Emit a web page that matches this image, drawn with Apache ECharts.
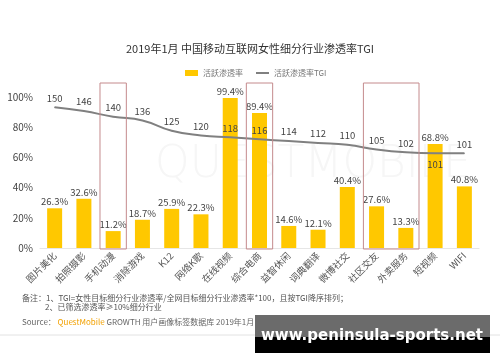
<!DOCTYPE html>
<html><head><meta charset="utf-8">
<script src="https://cdn.jsdelivr.net/npm/echarts@6/dist/echarts.min.js"></script>
<style>html,body{margin:0;padding:0;background:#fff}#c{width:500px;height:362px}</style>
</head><body><div id="c"></div>
<script>
const categories = ['图片美化','拍照摄影','手机动漫','消除游戏','K12','网络K歌','在线视频','综合电商','益智休闲','词典翻译','微博社交','社区交友','外卖服务','短视频','WIFI'];
const penetration = [26.3,32.6,11.2,18.7,25.9,22.3,99.4,89.4,14.6,12.1,40.4,27.6,13.3,68.8,40.8];
const tgi = [150,146,140,136,125,120,118,116,114,112,110,105,102,101,101];
const yTicks = [0,20,40,60,80,100];
const highlightGroups = [['手机动漫'],['综合电商'],['社区交友','外卖服务']];
const titleText = '2019年1月 中国移动互联网女性细分行业渗透率TGI';
const noteLines = ['备注：1、TGI=女性目标细分行业渗透率/全网目标细分行业渗透率*100，且按TGI降序排列；','2、已筛选渗透率≥10%细分行业'];

const chart = echarts.init(document.getElementById('c'), null, {renderer:'canvas'});
const font = '"Noto Sans CJK SC","Noto Sans",sans-serif';
const boxData = highlightGroups.map(g => [categories.indexOf(g[0]), categories.indexOf(g[g.length-1])]);
const belowLabelCat = '短视频';

chart.setOption({
  backgroundColor:'#fff',
  textStyle:{fontFamily:font},
  title:{text:titleText,left:'center',top:38,textStyle:{fontSize:11,fontWeight:'normal',color:'#333',fontFamily:font}},
  legend:{left:180,top:64,itemWidth:13,itemHeight:6,itemGap:12,textStyle:{fontSize:8,color:'#777',fontFamily:font},
    data:[{name:'活跃渗透率',icon:'rect'},{name:'活跃渗透率TGI',itemStyle:{opacity:0}}]},
  grid:{left:40,right:21,top:97,bottom:114,containLabel:false},
  xAxis:{type:'category',data:categories,
    axisLine:{lineStyle:{color:'#e6e6e6'}},axisTick:{show:false},
    axisLabel:{rotate:45,fontSize:9.5,color:'#555',margin:6,interval:0,fontFamily:font}},
  yAxis:[{type:'value',min:yTicks[0],max:yTicks[yTicks.length-1],interval:20,
    axisLabel:{formatter:'{value}%',fontSize:10,color:'#444',margin:7},
    splitLine:{show:false},axisLine:{show:false},axisTick:{show:false}},
    {type:'value',min:0,max:161,show:false,splitLine:{show:false}}],
  graphic:[
    {type:'text',left:155,top:144,z:-10,silent:true,style:{text:'QUESTMOBILE',fontSize:44,fill:'#f6f6f6',fontFamily:'"DejaVu Sans"',fontWeight:'lighter'}},
    {type:'text',left:22,top:294,style:{text:noteLines[0],fontSize:8,fill:'#555',fontFamily:font}},
    {type:'text',left:45,top:303,style:{text:noteLines[1],fontSize:8,fill:'#555',fontFamily:font}},
    {type:'text',left:22,top:318,style:{rich:{a:{fontSize:8,fill:'#666',fontFamily:font},b:{fontSize:8,fill:'#f2a100',fontFamily:font}},text:'{a|Source： }{b|QuestMobile}{a| GROWTH 用户画像标签数据库 2019年1月}'}},
    {type:'line',shape:{x1:0,y1:335,x2:500,y2:335},style:{stroke:'#e2e2e2',lineWidth:1}},
    {type:'rect',shape:{x:255,y:315,width:235,height:22},style:{fill:'#6b6b6b'}},
    {type:'rect',shape:{x:255,y:337,width:235,height:16},style:{fill:'#000'}},
    {type:'text',x:372,y:336,style:{text:'www.peninsula-sports.net',fontSize:15,fontWeight:'bold',fill:'#fff',fontFamily:'"DejaVu Sans"',align:'center',verticalAlign:'middle'}}
  ],
  series:[
    {name:'活跃渗透率',type:'bar',data:penetration,barWidth:15,itemStyle:{color:'#FFC800'},
      label:{show:true,position:'top',distance:2,formatter:'{c}%',fontSize:9.5,color:'#444'}},
    {name:'活跃渗透率TGI',type:'line',yAxisIndex:1,smooth:true,symbol:'circle',symbolSize:1,showSymbol:true,
      data:tgi.map((v,i)=> categories[i]===belowLabelCat?{value:v,label:{position:'bottom',distance:6}}:v),
      lineStyle:{color:'#808080',width:2},itemStyle:{color:'#808080'},
      labelLayout:{hideOverlap:false},
      label:{show:true,position:'top',distance:4,fontSize:9.5,color:'#444'}},
    {type:'custom',silent:true,clip:false,z:5,data:boxData,encode:{x:[0,1]},
      renderItem:function(params,api){
        const s=api.value(0), e=api.value(1);
        const band=api.size([1,0])[0];
        const p0=api.coord([s,100]), p1=api.coord([e,0]);
        const x0=p0[0]-band*0.45, x1=p1[0]+band*0.45;
        const y0=p0[1]-14, y1=p1[1]+1;
        return {type:'rect',shape:{x:x0,y:y0,width:x1-x0,height:y1-y0},style:{fill:'none',stroke:'#c48a8c',lineWidth:1}};
      }}
  ]
});
</script></body></html>
